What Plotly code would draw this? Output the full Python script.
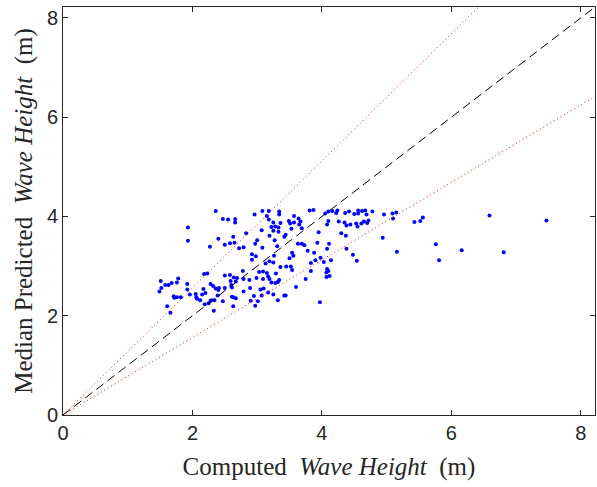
import plotly.graph_objects as go

# Computed wave height (m)
computed = [
    # left cluster
    2.36, 2.47, 2.55, 2.66, 2.66, 1.93, 1.93, 2.40, 2.27, 2.50, 2.58, 2.65, 2.63, 2.72, 2.79, 2.83,
    2.96, 3.08, 3.18, 3.15, 3.18, 3.25, 3.22, 3.28, 3.25, 3.07, 3.19, 3.00, 2.97, 3.08, 3.27,
    2.92, 2.98, 2.92, 3.26, 3.19, 3.13, 3.25, 3.03, 3.09, 3.15, 3.17, 3.09, 3.19, 3.29, 3.28,
    1.51, 1.52, 1.49, 1.58, 1.63, 1.68, 1.76, 1.78, 1.92, 1.92, 1.71, 1.72, 1.76, 1.82, 1.61, 1.66,
    1.96, 2.05, 2.06, 2.07, 2.15, 2.12, 2.18, 2.23, 2.28, 2.17, 2.20, 2.32, 2.36, 2.40, 2.39, 2.41,
    2.50, 2.58, 2.64, 2.59, 2.67, 2.69, 2.78, 2.79, 2.60, 2.61, 2.50, 2.61, 2.63, 2.47, 2.34, 2.30,
    2.28, 2.25, 2.19, 2.33, 2.63, 2.67, 2.79, 2.89, 2.95, 2.90, 3.01, 2.97, 3.05, 3.10, 3.07, 3.17,
    3.25, 3.22, 2.88, 2.99, 3.33, 3.33, 3.31, 3.32, 3.32,
    # middle cluster
    3.34, 3.34, 3.81, 3.87, 4.05, 4.10, 4.16, 4.22, 4.24, 4.36, 4.42, 4.50, 4.56, 4.56, 4.62, 4.67,
    4.69, 4.78, 4.96, 5.09, 5.15, 5.10, 3.57, 3.64, 3.49, 3.51, 3.57, 3.67, 3.65, 3.36, 3.53, 3.69,
    3.44, 3.42, 3.95, 4.08, 4.10, 4.26, 4.35, 4.38, 4.44, 4.53, 4.55, 4.61, 4.65, 4.70, 4.72, 4.30,
    4.37, 3.63, 3.69, 3.73, 3.93, 4.11, 4.08, 4.38, 3.78, 3.88, 3.98, 3.54, 3.56, 3.50, 3.90, 4.03,
    4.14, 4.48, 4.54, 4.94, 5.16, 3.45, 3.52, 3.36, 3.54, 3.83, 3.83, 4.08, 4.10, 4.07, 4.12, 4.07,
    3.75, 3.34, 3.60, 3.42, 3.44, 3.97,
    # right tail
    5.43, 5.52, 5.56, 5.76, 5.81, 6.16, 6.59, 6.81, 7.47,
]

# Median predicted wave height (m)
predicted = [
    4.11, 3.95, 3.94, 3.95, 3.88, 3.78, 3.51, 3.55, 3.39, 3.43, 3.46, 3.47, 3.59, 3.36, 3.38, 3.66,
    4.04, 4.11, 4.11, 4.01, 3.94, 3.88, 3.79, 3.80, 3.71, 3.72, 3.61, 3.52, 3.45, 3.37, 3.52,
    3.24, 3.20, 3.13, 3.21, 3.10, 3.05, 3.07, 2.88, 2.89, 2.86, 2.79, 2.74, 2.74, 2.85, 2.66,
    2.70, 2.56, 2.49, 2.62, 2.62, 2.66, 2.67, 2.75, 2.64, 2.53, 2.39, 2.36, 2.37, 2.37, 2.19, 2.06,
    2.43, 2.44, 2.37, 2.34, 2.43, 2.31, 2.84, 2.85, 2.64, 2.54, 2.46, 2.60, 2.55, 2.52, 2.41, 2.56,
    2.81, 2.82, 2.77, 2.70, 2.69, 2.76, 2.90, 2.74, 2.62, 2.57, 2.56, 2.38, 2.37, 2.29, 2.31, 2.31,
    2.30, 2.25, 2.23, 2.10, 2.19, 2.35, 2.49, 2.56, 2.40, 2.30, 2.29, 2.20, 2.53, 2.55, 2.41, 2.47,
    2.43, 2.67, 2.72, 2.76, 3.78, 3.69, 3.40, 2.68, 2.31,
    4.10, 4.04, 4.12, 4.13, 4.06, 4.10, 4.11, 4.07, 4.12, 4.07, 4.10, 4.05, 4.12, 4.06, 4.11, 4.12,
    4.04, 4.10, 4.04, 4.06, 4.08, 3.96, 4.01, 3.96, 3.91, 3.86, 3.88, 3.90, 3.84, 3.87, 3.75, 3.76,
    3.63, 3.59, 3.68, 3.84, 3.91, 3.90, 3.88, 3.82, 3.84, 3.86, 3.80, 3.86, 3.90, 3.87, 3.92, 3.66,
    3.61, 3.45, 3.45, 3.42, 3.47, 3.45, 3.35, 3.35, 3.31, 3.27, 3.17, 3.27, 3.21, 3.16, 3.12, 3.08,
    3.12, 3.23, 3.11, 3.57, 3.29, 2.99, 2.99, 2.98, 2.92, 3.06, 2.90, 2.94, 2.90, 2.87, 2.80, 2.78,
    2.74, 2.72, 2.58, 2.41, 2.41, 2.27,
    3.89, 3.91, 3.98, 3.44, 3.12, 3.32, 4.02, 3.28, 3.92,
]

axis_max = 8.22
ratio = 1.28  # bounding error lines y = ratio*x and y = x/ratio
tick_vals = [0, 2, 4, 6, 8]
tick_text = ["0", "2", "4", "6", "8"]

line_x = [0, axis_max]

fig = go.Figure()
fig.add_trace(go.Scatter(
    x=computed, y=predicted, mode="markers",
    marker=dict(color="#0000ff", size=4, line=dict(width=0)),
    showlegend=False,
))
fig.add_trace(go.Scatter(
    x=line_x, y=[v * ratio for v in line_x], mode="lines",
    line=dict(color="#ff0000", width=1, dash="1px,3px"), showlegend=False,
))
fig.add_trace(go.Scatter(
    x=line_x, y=[v / ratio for v in line_x], mode="lines",
    line=dict(color="#ff0000", width=1, dash="1px,3px"), showlegend=False,
))
fig.add_trace(go.Scatter(
    x=line_x, y=line_x, mode="lines",
    line=dict(color="#000000", width=1, dash="9px,5px"), showlegend=False,
))

axis_common = dict(
    range=[0, axis_max], tickvals=tick_vals, ticktext=tick_text,
    ticks="inside", ticklen=5, tickwidth=1, tickcolor="#262626",
    showline=True, linecolor="#262626", linewidth=1, mirror="ticks",
    showgrid=False, zeroline=False, automargin=False,
    tickfont=dict(family="Liberation Sans", size=20, color="#262626"),
)

fig.update_layout(
    width=597, height=487,
    margin=dict(l=63, r=2, t=7, b=72, autoexpand=False),
    plot_bgcolor="white", paper_bgcolor="white",
    xaxis=dict(
        **axis_common,
        title=dict(
            text="Computed  <i>Wave Height</i>  (m)",
            font=dict(family="Liberation Serif", size=25, color="#262626"),
            standoff=14,
        ),
    ),
    yaxis=dict(
        **axis_common,
        title=dict(
            text="Median Predicted  <i>Wave Height</i>  (m)",
            font=dict(family="Liberation Serif", size=25, color="#262626"),
            standoff=7,
        ),
    ),
)

fig.write_html("out.html", config={"displayModeBar": False})

# remove the default page margin so the figure sits at the window origin
with open("out.html", "r", encoding="utf-8") as f:
    html = f.read()
html = html.replace("<head>", "<head><style>html,body{margin:0;padding:0;overflow:hidden;}</style>", 1)
with open("out.html", "w", encoding="utf-8") as f:
    f.write(html)
